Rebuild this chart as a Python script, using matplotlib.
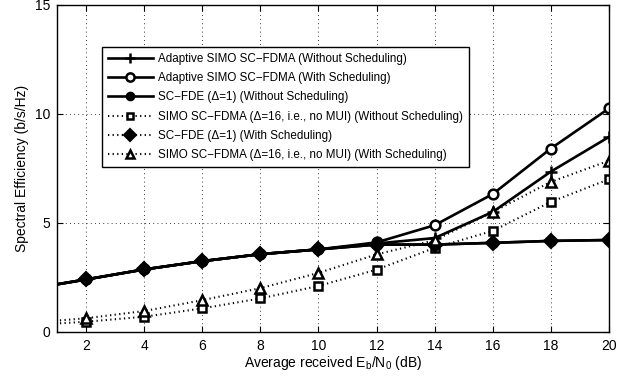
import matplotlib
matplotlib.use("Agg")
import matplotlib.pyplot as plt
import numpy as np

plt.rcParams['font.family'] = ['Liberation Sans', 'DejaVu Sans']
plt.rcParams['mathtext.fontset'] = 'custom'
plt.rcParams['mathtext.rm'] = 'Liberation Sans'
plt.rcParams['mathtext.it'] = 'Liberation Sans'

snr = np.array([0, 2, 4, 6, 8, 10, 12, 14, 16, 18, 20])

adaptive_no_sched = np.array([1.95, 2.40, 2.86, 3.24, 3.56, 3.78, 4.05, 4.30, 5.50, 7.35, 8.94])
adaptive_sched = np.array([1.95, 2.40, 2.86, 3.24, 3.56, 3.78, 4.10, 4.89, 6.32, 8.41, 10.25])
scfde_no_sched = np.array([1.95, 2.40, 2.86, 3.24, 3.56, 3.78, 4.00, 4.00, 4.08, 4.17, 4.21])
simo_no_sched = np.array([0.30, 0.46, 0.69, 1.07, 1.53, 2.10, 2.85, 3.85, 4.63, 5.96, 7.00])
scfde_sched = np.array([1.95, 2.40, 2.86, 3.24, 3.56, 3.78, 4.00, 4.00, 4.08, 4.17, 4.21])
simo_sched = np.array([0.40, 0.62, 0.95, 1.45, 2.00, 2.70, 3.55, 4.20, 5.50, 6.88, 7.85])

labels = [
    'Adaptive SIMO SC\u2212FDMA (Without Scheduling)',
    'Adaptive SIMO SC\u2212FDMA (With Scheduling)',
    'SC\u2212FDE (\u0394=1) (Without Scheduling)',
    'SIMO SC\u2212FDMA (\u0394=16, i.e., no MUI) (Without Scheduling)',
    'SC\u2212FDE (\u0394=1) (With Scheduling)',
    'SIMO SC\u2212FDMA (\u0394=16, i.e., no MUI) (With Scheduling)',
]

fig = plt.figure(figsize=(6.38, 3.77), dpi=100)
ax = fig.add_axes([0.0893, 0.120, 0.8652, 0.867])

dots = (0, (0.6, 1.6))
me = slice(1, None)
ax.plot(snr, adaptive_no_sched, '-', color='k', lw=1.9, marker='+', ms=8, mew=1.8, markevery=me, label=labels[0])
ax.plot(snr, adaptive_sched, '-', color='k', lw=1.9, marker='o', ms=7, mew=1.8, mfc='white', markevery=me, label=labels[1])
ax.plot(snr, scfde_no_sched, '-', color='k', lw=1.9, marker='o', ms=7, mfc='k', markevery=me, label=labels[2])
ax.plot(snr, simo_no_sched, linestyle=dots, color='k', lw=1.5, marker='s', ms=5.5, mew=1.8, mfc='white', markevery=me, label=labels[3])
ax.plot(snr, scfde_sched, linestyle=dots, color='k', lw=1.5, marker='D', ms=7.5, mew=1.5, mfc='k', markevery=me, label=labels[4])
ax.plot(snr, simo_sched, linestyle=dots, color='k', lw=1.5, marker='^', ms=7.5, mew=1.8, mfc='white', markevery=me, label=labels[5])

# the diamond curve overlaps the filled-circle one, drawn solid in the figure
ax.lines[4].set_linestyle('-')
ax.lines[4].set_linewidth(1.9)

ax.set_xlim(1, 20)
ax.set_ylim(0, 15)
ax.set_xticks(np.arange(2, 21, 2))
ax.set_yticks([0, 5, 10, 15])
ax.tick_params(direction='in', labelsize=10, length=4, top=True, right=True, pad=5)
ax.grid(True, linestyle=(0, (1, 4)), color='k', lw=0.6)
for s in ax.spines.values():
    s.set_linewidth(1.0)

ax.set_xlabel('Average received E$_\\mathrm{b}$/N$_\\mathrm{0}$ (dB)', fontsize=10, labelpad=1)
ax.set_ylabel('Spectral Efficiency (b/s/Hz)', fontsize=10, labelpad=4)

handles, labs = ax.get_legend_handles_labels()
leg = ax.legend(handles, labs, loc='upper left', bbox_to_anchor=(0.0815, 0.871), borderaxespad=0,
                fontsize=8.4, markerscale=0.85,
                handlelength=3.85, handletextpad=0.45, labelspacing=0.62, borderpad=0.5,
                frameon=True, fancybox=False, edgecolor='k', framealpha=1)
leg.get_frame().set_linewidth(1.0)
# legend for diamond line shown dotted
leg.get_lines()[4].set_linestyle(dots)
leg.get_lines()[4].set_linewidth(1.5)

fig.savefig('out.png', dpi=100)
